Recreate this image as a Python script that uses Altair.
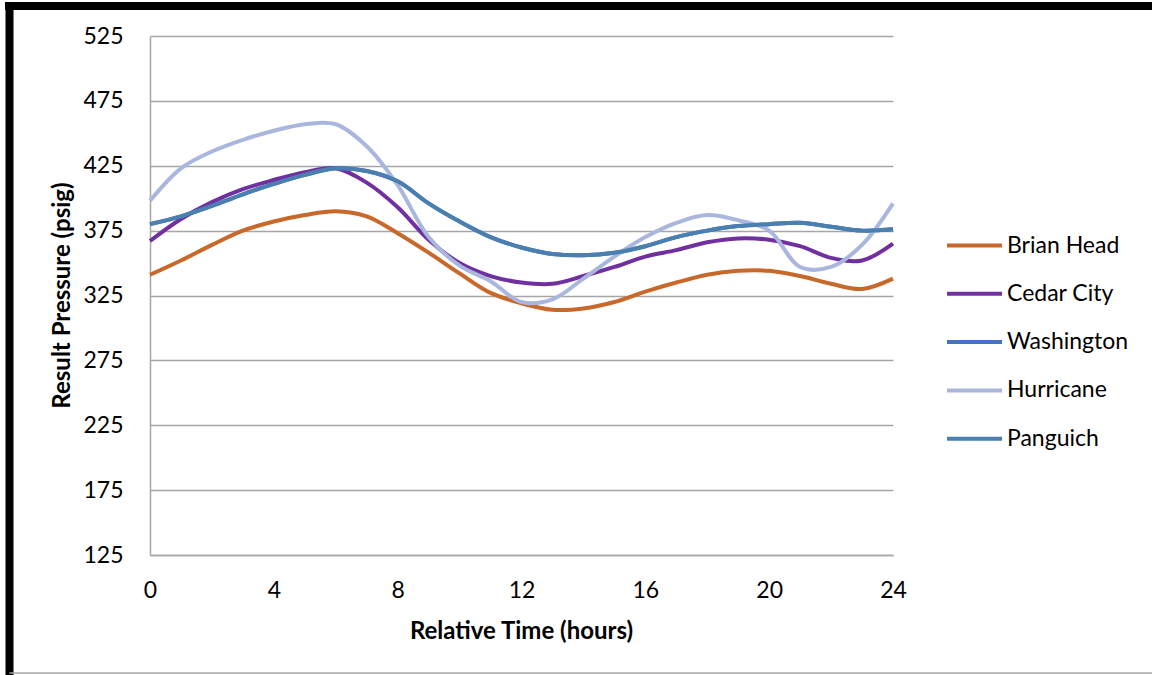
import altair as alt
import pandas as pd

hours = list(range(0, 25))

series_names = ["Brian Head", "Cedar City", "Washington", "Hurricane", "Panguich"]
series_colors = ["#C8682A", "#7030A0", "#4472C4", "#A9B7DE", "#4A7FB0"]

brian_head = [341, 352, 364, 375, 382, 387, 390, 386, 373, 358, 342, 327, 319, 314,
              315, 320, 328, 335, 341, 344, 344, 340, 334, 330, 338]
cedar_city = [367, 384, 397, 407, 414, 420, 423, 412, 393, 368, 350, 340, 335, 334,
              340, 347, 355, 360, 366, 369, 368, 363, 354, 352, 365]
panguich = [380, 386, 394, 403, 411, 418, 423, 421, 413, 396, 382, 370, 362, 357,
            356, 358, 363, 370, 375, 378.5, 380, 381, 378, 375, 376]
washington = list(panguich)
hurricane = [398, 423, 436, 445, 452, 457, 457, 440, 410, 370, 348, 336, 320, 322,
             338, 355, 370, 381, 387, 383, 375, 347, 347, 364, 396]

y_ticks = [125, 175, 225, 275, 325, 375, 425, 475, 525]
x_ticks = [0, 4, 8, 12, 16, 20, 24]

values = {
    "Brian Head": brian_head,
    "Cedar City": cedar_city,
    "Washington": washington,
    "Hurricane": hurricane,
    "Panguich": panguich,
}

rows = []
for name in series_names:
    for h, v in zip(hours, values[name]):
        rows.append({"hour": h, "pressure": v, "series": name})
df = pd.DataFrame(rows)

FONT = "Lato"

W, H = 743, 519
PAD_L, PAD_T = 150, 36

color = alt.Color(
    "series:N",
    scale=alt.Scale(domain=series_names, range=series_colors),
    sort=series_names,
    legend=alt.Legend(
        title=None,
        orient="none",
        legendX=795,
        legendY=180,
        symbolType="stroke",
        symbolSize=3025,
        symbolStrokeWidth=4,
        labelFontSize=23,
        labelFont=FONT,
        labelColor="#000000",
        labelOffset=3,
        rowPadding=6.3,
    ),
)

lines = alt.Chart(df).mark_line(strokeWidth=4, interpolate="catmull-rom").encode(
    x=alt.X(
        "hour:Q",
        scale=alt.Scale(domain=[0, 24], nice=False, zero=False),
        axis=alt.Axis(
            values=x_ticks,
            title="Relative Time (hours)",
            titleFont=FONT,
            titleFontSize=24,
            titleFontWeight="bold",
            titleColor="#000000",
            titleX=371,
            titleY=76,
            titleBaseline="middle",
            labelFont=FONT,
            labelFontSize=23,
            labelColor="#000000",
            labelPadding=35,
            labelBaseline="middle",
            labelFlush=False,
            ticks=False,
            grid=False,
            domainColor="#A6A6A6",
            domainWidth=1.5,
        ),
    ),
    y=alt.Y(
        "pressure:Q",
        scale=alt.Scale(domain=[125, 525], nice=False, zero=False),
        axis=alt.Axis(
            values=y_ticks,
            title="Result Pressure (psig)",
            titleFont=FONT,
            titleFontSize=24,
            titleFontWeight="bold",
            titleColor="#000000",
            titleX=-88,
            titleY=259,
            titleBaseline="middle",
            labelFont=FONT,
            labelFontSize=23,
            labelColor="#000000",
            labelPadding=27,
            labelFlush=False,
            ticks=False,
            grid=True,
            gridColor="#A6A6A6",
            gridWidth=1.5,
            domainColor="#A6A6A6",
            domainWidth=1.5,
        ),
    ),
    color=color,
    order=alt.Order("hour:Q"),
)

frame_df = pd.DataFrame({"a": [0]})
top_border = alt.Chart(frame_df).mark_rule(color="#000000", strokeWidth=8).encode(
    x=alt.value(-145), x2=alt.value(1152 - PAD_L), y=alt.value(6 - PAD_T)
)
left_border = alt.Chart(frame_df).mark_rule(color="#000000", strokeWidth=8).encode(
    x=alt.value(9.5 - PAD_L), y=alt.value(2 - PAD_T), y2=alt.value(675 - PAD_T)
)
bottom_border = alt.Chart(frame_df).mark_rule(color="#A6A6A6", strokeWidth=1.5).encode(
    x=alt.value(9.5 - PAD_L), x2=alt.value(1152 - PAD_L), y=alt.value(673 - PAD_T)
)

chart = alt.layer(lines, top_border, left_border, bottom_border).properties(
    width=W,
    height=H,
    padding={"left": PAD_L, "top": PAD_T, "right": 1152 - PAD_L - W, "bottom": 675 - PAD_T - H},
    autosize=alt.AutoSizeParams(type="none"),
    background="#FFFFFF",
).configure_view(stroke=None)

chart.save("out.html", embed_options={"renderer": "svg", "actions": False})
